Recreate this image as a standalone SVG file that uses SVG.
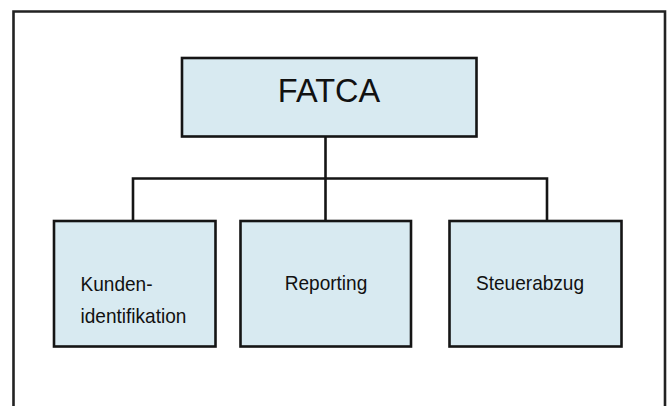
<svg xmlns="http://www.w3.org/2000/svg" width="669" height="406" viewBox="0 0 669 406">
<style>
.box{fill:#d8eaf1;stroke:#151515;stroke-width:2.6}
.lbl{font-family:"Liberation Sans",Arial,sans-serif;fill:#111;font-size:20.5px}
.conn{fill:none;stroke:#151515;stroke-width:2.6}
</style>
<rect width="669" height="406" fill="#fff"/>
<path d="M13.5,420 V11.5 H665 V420" fill="none" stroke="#222" stroke-width="2.6"/>
<g id="connectors">
<path class="conn" d="M325.5,137 V221"/>
<path class="conn" d="M133,221 V178.5 H547 V221"/>
</g>
<g id="fatca">
<rect class="box" x="182" y="58" width="294.5" height="78.5"/>
<text x="329" y="101.5" text-anchor="middle" style="font-family:'Liberation Sans',Arial,sans-serif;font-size:32.5px;fill:#111">FATCA</text>
</g>
<g id="kunden">
<rect class="box" x="54" y="221" width="161.5" height="125.5"/>
<text class="lbl" transform="translate(80.5,290.5) scale(0.93,1)">Kunden-</text>
<text class="lbl" transform="translate(80.5,322.5) scale(0.93,1)">identifikation</text>
</g>
<g id="reporting">
<rect class="box" x="240.5" y="221" width="170.5" height="125.5"/>
<text class="lbl" transform="translate(326,289.5) scale(0.93,1)" text-anchor="middle">Reporting</text>
</g>
<g id="steuerabzug">
<rect class="box" x="449.5" y="221" width="172" height="125.5"/>
<text class="lbl" transform="translate(476,289.5) scale(0.93,1)">Steuerabzug</text>
</g>
</svg>
